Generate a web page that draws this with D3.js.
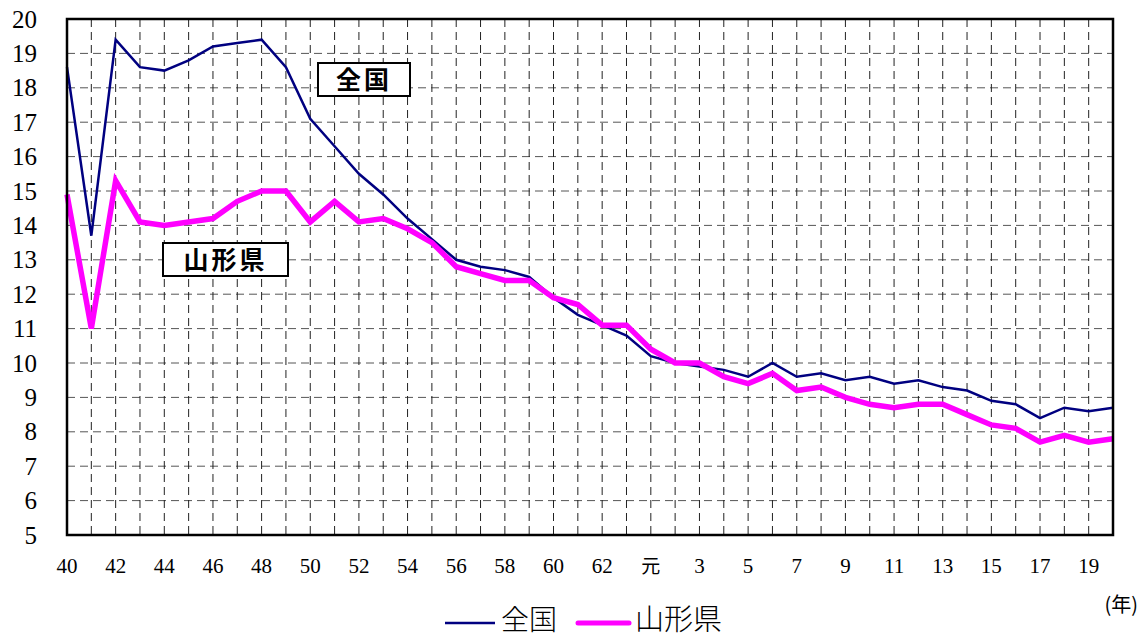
<!DOCTYPE html>
<html><head><meta charset="utf-8">
<script src="https://cdn.jsdelivr.net/npm/d3@7"></script>
<style>
html,body{margin:0;padding:0;background:#fff;}
svg{display:block;}
</style>
</head><body>
<svg id="chart" width="1148" height="641"></svg>
<script>
const years = ["40","41","42","43","44","45","46","47","48","49","50","51","52","53","54","55","56","57","58","59","60","61","62","63","元","2","3","4","5","6","7","8","9","10","11","12","13","14","15","16","17","18","19","20"];
const national = [18.6,13.7,19.4,18.6,18.5,18.8,19.2,19.3,19.4,18.6,17.1,16.3,15.5,14.9,14.2,13.6,13.0,12.8,12.7,12.5,11.9,11.4,11.1,10.8,10.2,10.0,9.9,9.8,9.6,10.0,9.6,9.7,9.5,9.6,9.4,9.5,9.3,9.2,8.9,8.8,8.4,8.7,8.6,8.7];
const yamagata = [14.9,11.0,15.3,14.1,14.0,14.1,14.2,14.7,15.0,15.0,14.1,14.7,14.1,14.2,13.9,13.5,12.8,12.6,12.4,12.4,11.9,11.7,11.1,11.1,10.4,10.0,10.0,9.6,9.4,9.7,9.2,9.3,9.0,8.8,8.7,8.8,8.8,8.5,8.2,8.1,7.7,7.9,7.7,7.8];
const yTicks = [5,6,7,8,9,10,11,12,13,14,15,16,17,18,19,20];
const seriesNames = ["全国","山形県"];
const unitLabel = "(年)";

const svg = d3.select("#chart");
const L = 67, R = 1113, T = 19, B = 535;
const x = d3.scalePoint().domain(years).range([L, R]);
const y = d3.scaleLinear().domain([5, 20]).range([B, T]);

const serif = "'Liberation Serif','DejaVu Serif',serif";
const cjk = "'Noto Sans CJK JP','Noto Sans CJK SC',sans-serif";

// grid
const g = svg.append("g");
g.selectAll("line.h").data(yTicks.slice(1, -1)).enter().append("line")
  .attr("x1", L).attr("x2", R).attr("y1", d => y(d)).attr("y2", d => y(d))
  .attr("stroke", "#555").attr("stroke-width", 1).attr("stroke-dasharray", "8,5");
g.selectAll("line.v").data(years.slice(1, -1)).enter().append("line")
  .attr("x1", d => x(d)).attr("x2", d => x(d)).attr("y1", T).attr("y2", B)
  .attr("stroke", "#222").attr("stroke-width", 1).attr("stroke-dasharray", "8,5");

// y labels
svg.append("g").selectAll("text").data(yTicks).enter().append("text")
  .attr("x", 37).attr("y", d => y(d)).attr("dy", "0.34em")
  .attr("text-anchor", "end").attr("font-family", serif).attr("font-size", 25)
  .text(d => d);

// x labels
svg.append("g").selectAll("text").data(years.filter((d, i) => i % 2 === 0 && i < 43)).enter().append("text")
  .attr("x", d => x(d)).attr("y", 573)
  .attr("text-anchor", "middle")
  .attr("font-family", d => d === "元" ? cjk : serif)
  .attr("font-size", d => d === "元" ? 19 : 21)
  .text(d => d);

// lines
const line = d3.line().x((d, i) => x(years[i])).y(d => y(d));
svg.append("path").datum(national).attr("d", line)
  .attr("fill", "none").attr("stroke", "#000080").attr("stroke-width", 2.5).attr("stroke-linejoin", "miter");
svg.append("path").datum(yamagata).attr("d", line)
  .attr("fill", "none").attr("stroke", "#ff00ff").attr("stroke-width", 5.5).attr("stroke-linejoin", "miter");

// border
svg.append("rect").attr("x", L).attr("y", T).attr("width", R - L).attr("height", B - T)
  .attr("fill", "none").attr("stroke", "#000").attr("stroke-width", 2.5);

// annotation boxes
function box(x0, y0, w, h, label) {
  svg.append("rect").attr("x", x0).attr("y", y0).attr("width", w).attr("height", h)
    .attr("fill", "#fff").attr("stroke", "#000").attr("stroke-width", 2);
  svg.append("text").attr("x", x0 + w / 2).attr("y", y0 + h / 2).attr("dy", "0.36em")
    .attr("text-anchor", "middle").attr("font-family", cjk).attr("font-weight", 700)
    .attr("font-size", 25).attr("letter-spacing", 3).text(label);
}
box(318, 63, 92, 33, seriesNames[0]);
box(163, 243, 125, 33, seriesNames[1]);

// unit
svg.append("text").attr("x", 1138).attr("y", 612).attr("text-anchor", "end")
  .attr("font-family", cjk).attr("font-size", 20).text(unitLabel);

// legend
const lg = svg.append("g");
lg.append("line").attr("x1", 445).attr("x2", 495).attr("y1", 623).attr("y2", 623)
  .attr("stroke", "#000080").attr("stroke-width", 2.5);
lg.append("text").attr("x", 501).attr("y", 620).attr("dy", "0.36em")
  .attr("font-family", cjk).attr("font-weight", 300).attr("font-size", 28).text(seriesNames[0]);
lg.append("line").attr("x1", 578).attr("x2", 629).attr("y1", 623).attr("y2", 623)
  .attr("stroke", "#ff00ff").attr("stroke-width", 5).attr("stroke-linecap", "round");
lg.append("text").attr("x", 635).attr("y", 620).attr("dy", "0.36em")
  .attr("font-family", cjk).attr("font-weight", 300).attr("font-size", 29).text(seriesNames[1]);
</script>
</body></html>
